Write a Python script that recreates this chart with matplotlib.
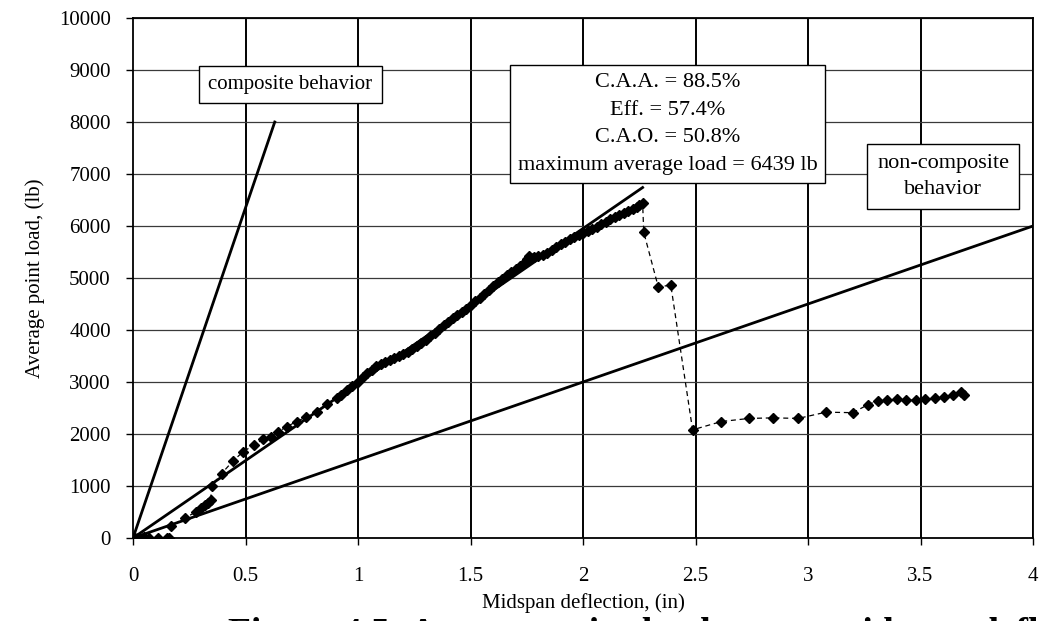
"""
Average point load vs. midspan deflection with composite / non-composite
reference lines and the secant fit.

Output: out.png
"""
import matplotlib
matplotlib.use('Agg')
import matplotlib.pyplot as plt

plt.rcParams['font.family'] = ['Liberation Serif', 'DejaVu Serif']

# Test data (deflection in, load lb)
deflection = [
    0.00, 0.01, 0.02, 0.05, 0.07, 0.11, 0.15, 0.16, 0.17, 0.23, 0.28, 0.30,
    0.32, 0.335, 0.345, 0.35, 0.394, 0.445, 0.49, 0.538, 0.579, 0.612, 0.646,
    0.683, 0.727, 0.771, 0.816, 0.86, 0.905, 0.925, 0.949, 0.975,
    1.00, 1.02, 1.04, 1.06, 1.08, 1.10, 1.12, 1.14, 1.16, 1.18, 1.20, 1.22,
    1.24, 1.26, 1.28, 1.30, 1.32, 1.34, 1.36, 1.38, 1.40, 1.42, 1.44, 1.46,
    1.48, 1.50, 1.52, 1.54, 1.56, 1.58, 1.60, 1.62, 1.64, 1.66, 1.68, 1.70,
    1.72, 1.74, 1.75, 1.76, 1.77, 1.78, 1.80, 1.82, 1.84, 1.86, 1.88, 1.90,
    1.92, 1.94, 1.96, 1.98, 2.00, 2.02, 2.04, 2.06, 2.08, 2.10, 2.12, 2.14,
    2.16, 2.18, 2.20, 2.22, 2.24, 2.25, 2.265,
    2.27, 2.335, 2.39, 2.487, 2.615, 2.739, 2.846, 2.957, 3.08, 3.199, 3.265,
    3.31, 3.352, 3.394, 3.437, 3.48, 3.52, 3.563, 3.604, 3.643, 3.679, 3.693,
]
load = [
    0, 0, 0, 10, 0, 0, 0, 0, 230, 385, 500, 570,
    635, 680, 730, 1000, 1240, 1485, 1660, 1790, 1900, 1950, 2045,
    2140, 2240, 2330, 2430, 2575, 2690, 2750, 2850, 2930,
    3000, 3100, 3170, 3240, 3300, 3350, 3390, 3430, 3470, 3500, 3540, 3580,
    3630, 3690, 3750, 3810, 3880, 3950, 4020, 4090, 4160, 4230, 4290, 4350,
    4410, 4480, 4550, 4620, 4690, 4760, 4840, 4920, 4990, 5060, 5120, 5180,
    5240, 5300, 5360, 5430, 5380, 5410, 5430, 5450, 5480, 5540, 5600, 5650,
    5700, 5750, 5790, 5830, 5870, 5910, 5950, 5990, 6040, 6080, 6130, 6170,
    6210, 6250, 6290, 6330, 6370, 6400, 6439,
    5880, 4820, 4870, 2080, 2240, 2300, 2310, 2300, 2420, 2410, 2560,
    2640, 2660, 2670, 2645, 2655, 2665, 2690, 2705, 2745, 2800, 2750,
]

# Reference lines (end points)
composite_x = [0, 0.63]
composite_y = [0, 8000]
secant_x = [0, 2.265]
secant_y = [0, 6740]
noncomposite_x = [0, 4]
noncomposite_y = [0, 6000]

x_ticks = [0, 0.5, 1, 1.5, 2, 2.5, 3, 3.5, 4]
x_tick_labels = ['0', '0.5', '1', '1.5', '2', '2.5', '3', '3.5', '4']
y_ticks = list(range(0, 10001, 1000))

fig = plt.figure(figsize=(10.39, 6.21), dpi=100)
ax = fig.add_axes([133 / 1039, 83 / 621, 900 / 1039, 520 / 621])

# grid
for xv in x_ticks[1:]:
    ax.axvline(xv, color='black', linewidth=1.4, zorder=1)
for yv in y_ticks[1:]:
    ax.axhline(yv, color='#3a3a3a', linewidth=0.9, zorder=1)

# reference lines
ax.plot(composite_x, composite_y, color='black', linewidth=2.0, zorder=3)
ax.plot(secant_x, secant_y, color='black', linewidth=2.0, zorder=3)
ax.plot(noncomposite_x, noncomposite_y, color='black', linewidth=2.0, zorder=3)

# test data
ax.plot(deflection, load, linestyle=(0, (4, 3)), linewidth=0.9, color='black',
        marker='D', markersize=5.4, markerfacecolor='black',
        markeredgecolor='black', zorder=4)

ax.set_xlim(0, 4)
ax.set_ylim(0, 10000)
ax.set_xticks(x_ticks)
ax.set_xticklabels(x_tick_labels)
ax.set_yticks(y_ticks)
ax.tick_params(axis='both', direction='out', length=5, width=1, labelsize=15)
ax.tick_params(axis='x', pad=16)
ax.tick_params(axis='y', pad=11)
for s in ax.spines.values():
    s.set_linewidth(1.3)

ax.set_xlabel('Midspan deflection, (in)', fontsize=15, labelpad=5)
ax.set_ylabel('Average point load, (lb)', fontsize=15, labelpad=10)

box = dict(boxstyle='square,pad=0.45', facecolor='white', edgecolor='black',
           linewidth=1.0)
ax.text(0.70, 8720, 'composite behavior', fontsize=15, ha='center',
        va='center', bbox=box, zorder=6)
ax.text(2.375, 7960,
        'C.A.A. = 88.5%\nEff. = 57.4%\nC.A.O. = 50.8%\n'
        'maximum average load = 6439 lb',
        fontsize=16, ha='center', va='center', linespacing=1.62,
        bbox=dict(boxstyle='square,pad=0.35', facecolor='white',
                  edgecolor='black', linewidth=1.0), zorder=6)
ax.text(3.6, 6950, 'non-composite\nbehavior', fontsize=16, ha='center',
        va='center', linespacing=1.45, bbox=box, zorder=6)

# figure caption, clipped by the bottom edge as in the scan
fig.text(228 / 1039, -0.021,
         'Figure 4.5: Average point load versus midspan deflection, specimen 2-4',
         fontsize=27, fontweight='bold', ha='left', va='center')

fig.savefig('out.png', dpi=100)
